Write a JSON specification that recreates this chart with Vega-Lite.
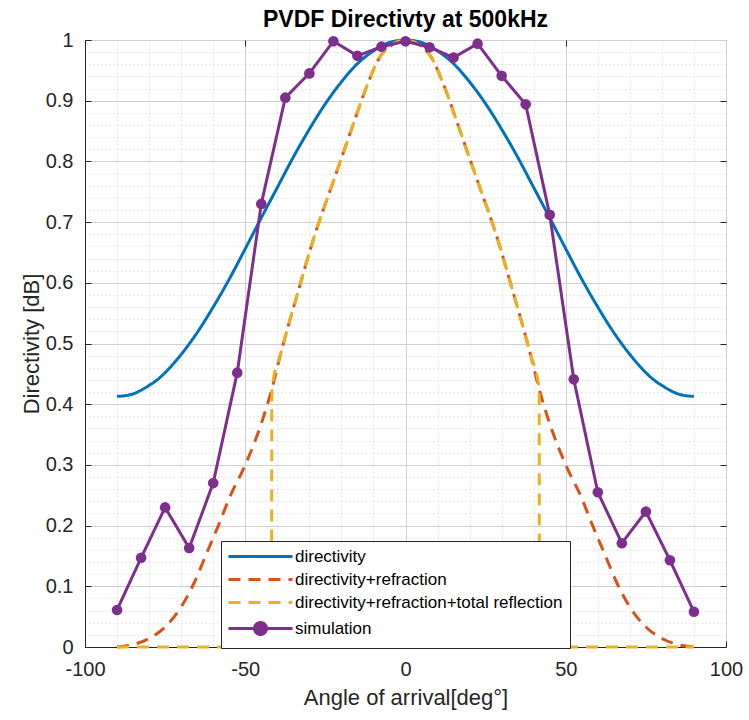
{
  "$schema": "https://vega.github.io/schema/vega-lite/v6.json",
  "width": 641,
  "height": 607,
  "autosize": "none",
  "padding": {"left": 85, "top": 40, "right": 23, "bottom": 73},
  "background": "white",
  "title": {"text": "PVDF Directivty at 500kHz", "fontSize": 23, "font": "Liberation Sans", "fontWeight": "bold", "color": "#000000", "offset": -2, "anchor": "middle"},
  "config": {"view": {"stroke": "#262626", "strokeWidth": 1}, "font": "Liberation Sans"},
  "data": {"values": [
    {"s": "directivity", "x": -90, "y": 0.413}, {"s": "directivity", "x": -87.5, "y": 0.414}, {"s": "directivity", "x": -85, "y": 0.417}, {"s": "directivity", "x": -82.5, "y": 0.423}, {"s": "directivity", "x": -80, "y": 0.431}, {"s": "directivity", "x": -77.5, "y": 0.440}, {"s": "directivity", "x": -75, "y": 0.452}, {"s": "directivity", "x": -70, "y": 0.482}, {"s": "directivity", "x": -65, "y": 0.518}, {"s": "directivity", "x": -60, "y": 0.560}, {"s": "directivity", "x": -55, "y": 0.606}, {"s": "directivity", "x": -50, "y": 0.656}, {"s": "directivity", "x": -45, "y": 0.707}, {"s": "directivity", "x": -40, "y": 0.757}, {"s": "directivity", "x": -35, "y": 0.807}, {"s": "directivity", "x": -30, "y": 0.853}, {"s": "directivity", "x": -25, "y": 0.895}, {"s": "directivity", "x": -20, "y": 0.931}, {"s": "directivity", "x": -15, "y": 0.961}, {"s": "directivity", "x": -10, "y": 0.982}, {"s": "directivity", "x": -5, "y": 0.996}, {"s": "directivity", "x": 0, "y": 1.0}, {"s": "directivity", "x": 5, "y": 0.996}, {"s": "directivity", "x": 10, "y": 0.982}, {"s": "directivity", "x": 15, "y": 0.961}, {"s": "directivity", "x": 20, "y": 0.931}, {"s": "directivity", "x": 25, "y": 0.895}, {"s": "directivity", "x": 30, "y": 0.853}, {"s": "directivity", "x": 35, "y": 0.807}, {"s": "directivity", "x": 40, "y": 0.757}, {"s": "directivity", "x": 45, "y": 0.707}, {"s": "directivity", "x": 50, "y": 0.656}, {"s": "directivity", "x": 55, "y": 0.606}, {"s": "directivity", "x": 60, "y": 0.560}, {"s": "directivity", "x": 65, "y": 0.518}, {"s": "directivity", "x": 70, "y": 0.482}, {"s": "directivity", "x": 75, "y": 0.452}, {"s": "directivity", "x": 77.5, "y": 0.440}, {"s": "directivity", "x": 80, "y": 0.431}, {"s": "directivity", "x": 82.5, "y": 0.423}, {"s": "directivity", "x": 85, "y": 0.417}, {"s": "directivity", "x": 87.5, "y": 0.414}, {"s": "directivity", "x": 90, "y": 0.413},
    {"s": "directivity+refraction", "x": -90, "y": 0.0}, {"s": "directivity+refraction", "x": -85, "y": 0.004}, {"s": "directivity+refraction", "x": -80, "y": 0.014}, {"s": "directivity+refraction", "x": -75, "y": 0.033}, {"s": "directivity+refraction", "x": -70, "y": 0.066}, {"s": "directivity+refraction", "x": -66, "y": 0.105}, {"s": "directivity+refraction", "x": -62, "y": 0.155}, {"s": "directivity+refraction", "x": -58, "y": 0.205}, {"s": "directivity+refraction", "x": -55, "y": 0.245}, {"s": "directivity+refraction", "x": -50, "y": 0.300}, {"s": "directivity+refraction", "x": -45, "y": 0.368}, {"s": "directivity+refraction", "x": -41.7, "y": 0.425}, {"s": "directivity+refraction", "x": -39, "y": 0.482}, {"s": "directivity+refraction", "x": -36, "y": 0.540}, {"s": "directivity+refraction", "x": -33, "y": 0.595}, {"s": "directivity+refraction", "x": -30, "y": 0.650}, {"s": "directivity+refraction", "x": -27, "y": 0.700}, {"s": "directivity+refraction", "x": -24, "y": 0.745}, {"s": "directivity+refraction", "x": -20, "y": 0.805}, {"s": "directivity+refraction", "x": -16, "y": 0.866}, {"s": "directivity+refraction", "x": -12, "y": 0.925}, {"s": "directivity+refraction", "x": -8, "y": 0.972}, {"s": "directivity+refraction", "x": -4, "y": 0.993}, {"s": "directivity+refraction", "x": 0, "y": 1.0}, {"s": "directivity+refraction", "x": 4, "y": 0.993}, {"s": "directivity+refraction", "x": 8, "y": 0.972}, {"s": "directivity+refraction", "x": 12, "y": 0.925}, {"s": "directivity+refraction", "x": 16, "y": 0.866}, {"s": "directivity+refraction", "x": 20, "y": 0.805}, {"s": "directivity+refraction", "x": 24, "y": 0.745}, {"s": "directivity+refraction", "x": 27, "y": 0.700}, {"s": "directivity+refraction", "x": 30, "y": 0.650}, {"s": "directivity+refraction", "x": 33, "y": 0.595}, {"s": "directivity+refraction", "x": 36, "y": 0.540}, {"s": "directivity+refraction", "x": 39, "y": 0.482}, {"s": "directivity+refraction", "x": 41.7, "y": 0.425}, {"s": "directivity+refraction", "x": 45, "y": 0.368}, {"s": "directivity+refraction", "x": 50, "y": 0.300}, {"s": "directivity+refraction", "x": 55, "y": 0.245}, {"s": "directivity+refraction", "x": 58, "y": 0.205}, {"s": "directivity+refraction", "x": 62, "y": 0.155}, {"s": "directivity+refraction", "x": 66, "y": 0.105}, {"s": "directivity+refraction", "x": 70, "y": 0.066}, {"s": "directivity+refraction", "x": 75, "y": 0.033}, {"s": "directivity+refraction", "x": 80, "y": 0.014}, {"s": "directivity+refraction", "x": 85, "y": 0.004}, {"s": "directivity+refraction", "x": 90, "y": 0.0},
    {"s": "directivity+refraction+total reflection", "x": -90, "y": 0.0}, {"s": "directivity+refraction+total reflection", "x": -80, "y": 0.0}, {"s": "directivity+refraction+total reflection", "x": -70, "y": 0.0}, {"s": "directivity+refraction+total reflection", "x": -60, "y": 0.0}, {"s": "directivity+refraction+total reflection", "x": -50, "y": 0.0}, {"s": "directivity+refraction+total reflection", "x": -41.8, "y": 0.0}, {"s": "directivity+refraction+total reflection", "x": -41.7, "y": 0.425}, {"s": "directivity+refraction+total reflection", "x": -39, "y": 0.482}, {"s": "directivity+refraction+total reflection", "x": -36, "y": 0.540}, {"s": "directivity+refraction+total reflection", "x": -33, "y": 0.595}, {"s": "directivity+refraction+total reflection", "x": -30, "y": 0.650}, {"s": "directivity+refraction+total reflection", "x": -27, "y": 0.700}, {"s": "directivity+refraction+total reflection", "x": -24, "y": 0.745}, {"s": "directivity+refraction+total reflection", "x": -20, "y": 0.805}, {"s": "directivity+refraction+total reflection", "x": -16, "y": 0.866}, {"s": "directivity+refraction+total reflection", "x": -12, "y": 0.925}, {"s": "directivity+refraction+total reflection", "x": -8, "y": 0.972}, {"s": "directivity+refraction+total reflection", "x": -4, "y": 0.993}, {"s": "directivity+refraction+total reflection", "x": 0, "y": 1.0}, {"s": "directivity+refraction+total reflection", "x": 4, "y": 0.993}, {"s": "directivity+refraction+total reflection", "x": 8, "y": 0.972}, {"s": "directivity+refraction+total reflection", "x": 12, "y": 0.925}, {"s": "directivity+refraction+total reflection", "x": 16, "y": 0.866}, {"s": "directivity+refraction+total reflection", "x": 20, "y": 0.805}, {"s": "directivity+refraction+total reflection", "x": 24, "y": 0.745}, {"s": "directivity+refraction+total reflection", "x": 27, "y": 0.700}, {"s": "directivity+refraction+total reflection", "x": 30, "y": 0.650}, {"s": "directivity+refraction+total reflection", "x": 33, "y": 0.595}, {"s": "directivity+refraction+total reflection", "x": 36, "y": 0.540}, {"s": "directivity+refraction+total reflection", "x": 39, "y": 0.482}, {"s": "directivity+refraction+total reflection", "x": 41.7, "y": 0.425}, {"s": "directivity+refraction+total reflection", "x": 41.8, "y": 0.0}, {"s": "directivity+refraction+total reflection", "x": 50, "y": 0.0}, {"s": "directivity+refraction+total reflection", "x": 60, "y": 0.0}, {"s": "directivity+refraction+total reflection", "x": 70, "y": 0.0}, {"s": "directivity+refraction+total reflection", "x": 80, "y": 0.0}, {"s": "directivity+refraction+total reflection", "x": 90, "y": 0.0},
    {"s": "simulation", "x": -90, "y": 0.061}, {"s": "simulation", "x": -82.5, "y": 0.147}, {"s": "simulation", "x": -75, "y": 0.230}, {"s": "simulation", "x": -67.5, "y": 0.163}, {"s": "simulation", "x": -60, "y": 0.270}, {"s": "simulation", "x": -52.5, "y": 0.452}, {"s": "simulation", "x": -45, "y": 0.730}, {"s": "simulation", "x": -37.5, "y": 0.905}, {"s": "simulation", "x": -30, "y": 0.945}, {"s": "simulation", "x": -22.5, "y": 0.998}, {"s": "simulation", "x": -15, "y": 0.974}, {"s": "simulation", "x": -7.5, "y": 0.989}, {"s": "simulation", "x": 0, "y": 0.998}, {"s": "simulation", "x": 7.5, "y": 0.988}, {"s": "simulation", "x": 15, "y": 0.971}, {"s": "simulation", "x": 22.5, "y": 0.994}, {"s": "simulation", "x": 30, "y": 0.941}, {"s": "simulation", "x": 37.5, "y": 0.894}, {"s": "simulation", "x": 45, "y": 0.712}, {"s": "simulation", "x": 52.5, "y": 0.441}, {"s": "simulation", "x": 60, "y": 0.255}, {"s": "simulation", "x": 67.5, "y": 0.171}, {"s": "simulation", "x": 75, "y": 0.223}, {"s": "simulation", "x": 82.5, "y": 0.143}, {"s": "simulation", "x": 90, "y": 0.058}
  ]},
  "layer": [
    {
      "transform": [{"filter": "datum.s !== 'simulation'"}],
      "mark": {"type": "line", "interpolate": "monotone", "strokeWidth": 3},
      "encoding": {
        "x": {"field": "x", "type": "quantitative", "scale": {"domain": [-100, 100], "nice": false, "zero": false},
          "axis": {"values": [-100, -90, -80, -70, -60, -50, -40, -30, -20, -10, 0, 10, 20, 30, 40, 50, 60, 70, 80, 90, 100],
            "grid": true, "gridColor": "#d0d0d0", "gridWidth": 1,
            "gridDash": {"condition": {"test": "datum.value % 50 === 0", "value": []}, "value": [1, 3]},
            "labelExpr": "datum.value % 50 === 0 ? toString(datum.value) : ''",
            "tickOpacity": {"condition": {"test": "datum.value % 50 === 0", "value": 1}, "value": 0},
            "tickSize": -6, "tickColor": "#262626", "domainColor": "#262626",
            "labelFontSize": 20, "labelColor": "#262626", "labelPadding": 18, "labelFlush": false, "labelOverlap": false,
            "title": "Angle of arrival[deg°]", "titleFontSize": 22, "titleFontWeight": "normal", "titleColor": "#262626", "titlePadding": 8}},
        "y": {"field": "y", "type": "quantitative", "scale": {"domain": [0, 1], "nice": false, "zero": false},
          "axis": {"values": [0, 0.02, 0.04, 0.06, 0.08, 0.1, 0.12, 0.14, 0.16, 0.18, 0.2, 0.22, 0.24, 0.26, 0.28, 0.3, 0.32, 0.34, 0.36, 0.38, 0.4, 0.42, 0.44, 0.46, 0.48, 0.5, 0.52, 0.54, 0.56, 0.58, 0.6, 0.62, 0.64, 0.66, 0.68, 0.7, 0.72, 0.74, 0.76, 0.78, 0.8, 0.82, 0.84, 0.86, 0.88, 0.9, 0.92, 0.94, 0.96, 0.98, 1],
            "grid": true, "gridColor": "#d0d0d0", "gridWidth": 1,
            "gridDash": {"condition": {"test": "abs(datum.value * 10 - round(datum.value * 10)) < 0.001", "value": []}, "value": [1, 3]},
            "labelExpr": "abs(datum.value * 10 - round(datum.value * 10)) < 0.001 ? toString(datum.value) : ''",
            "tickOpacity": {"condition": {"test": "abs(datum.value * 10 - round(datum.value * 10)) < 0.001", "value": 1}, "value": 0},
            "tickSize": -6, "tickColor": "#262626", "domainColor": "#262626",
            "labelFontSize": 20, "labelColor": "#262626", "labelPadding": 18, "labelFlush": false, "labelOverlap": false,
            "title": "Directivity [dB]", "titleFontSize": 22, "titleFontWeight": "normal", "titleColor": "#262626", "titlePadding": 2}},
        "color": {"field": "s", "type": "nominal",
          "scale": {"domain": ["directivity", "directivity+refraction", "directivity+refraction+total reflection", "simulation"], "range": ["#0072BD", "#D95319", "#EDB120", "#7E2F8E"]},
          "legend": {"orient": "none", "legendX": 136, "legendY": 501, "title": null, "direction": "vertical",
            "fillColor": "white", "strokeColor": "#262626", "padding": 7, "cornerRadius": 0,
            "labelFontSize": 17, "labelColor": "#000000", "labelFont": "Liberation Sans", "labelLimit": 400,
            "symbolSize": 100, "symbolStrokeWidth": 3, "symbolOffset": 24, "labelOffset": 26, "rowPadding": 5,
            "encode": {"symbols": {"update": {
              "shape": {"signal": "datum.label === 'simulation' ? 'M-6.4,0L6.4,0M1.2,0A1.2,1.2,0,1,1,-1.2,0A1.2,1.2,0,1,1,1.2,0Z' : 'M-6.4,0L6.4,0'"},
              "fill": {"signal": "datum.label === 'simulation' ? '#7E2F8E' : 'transparent'"},
              "strokeDash": {"signal": "(datum.label === 'directivity+refraction' || datum.label === 'directivity+refraction+total reflection') ? [14, 10] : [1, 0]"}
            }}}}},
        "strokeDash": {"field": "s", "type": "nominal",
          "scale": {"domain": ["directivity", "directivity+refraction", "directivity+refraction+total reflection", "simulation"], "range": [[1, 0], [12, 8], [12, 8], [1, 0]]},
          "legend": null}
      }
    },
    {
      "transform": [{"filter": "datum.s === 'simulation'"}],
      "mark": {"type": "line", "strokeWidth": 3},
      "encoding": {
        "x": {"field": "x", "type": "quantitative", "axis": null},
        "y": {"field": "y", "type": "quantitative", "axis": null},
        "color": {"field": "s", "type": "nominal"}
      }
    },
    {
      "transform": [{"filter": "datum.s === 'simulation'"}],
      "mark": {"type": "point", "filled": true, "size": 113, "opacity": 1, "color": "#7E2F8E"},
      "encoding": {
        "x": {"field": "x", "type": "quantitative",
          "axis": {"orient": "top", "values": [-50, 0, 50], "labels": false, "domain": false, "grid": false, "title": null, "tickSize": -6, "tickColor": "#262626"}},
        "y": {"field": "y", "type": "quantitative",
          "axis": {"orient": "right", "values": [0.1, 0.2, 0.3, 0.4, 0.5, 0.6, 0.7, 0.8, 0.9], "labels": false, "domain": false, "grid": false, "title": null, "tickSize": -6, "tickColor": "#262626"}}
      }
    }
  ],
  "resolve": {"axis": {"x": "independent", "y": "independent"}}
}
